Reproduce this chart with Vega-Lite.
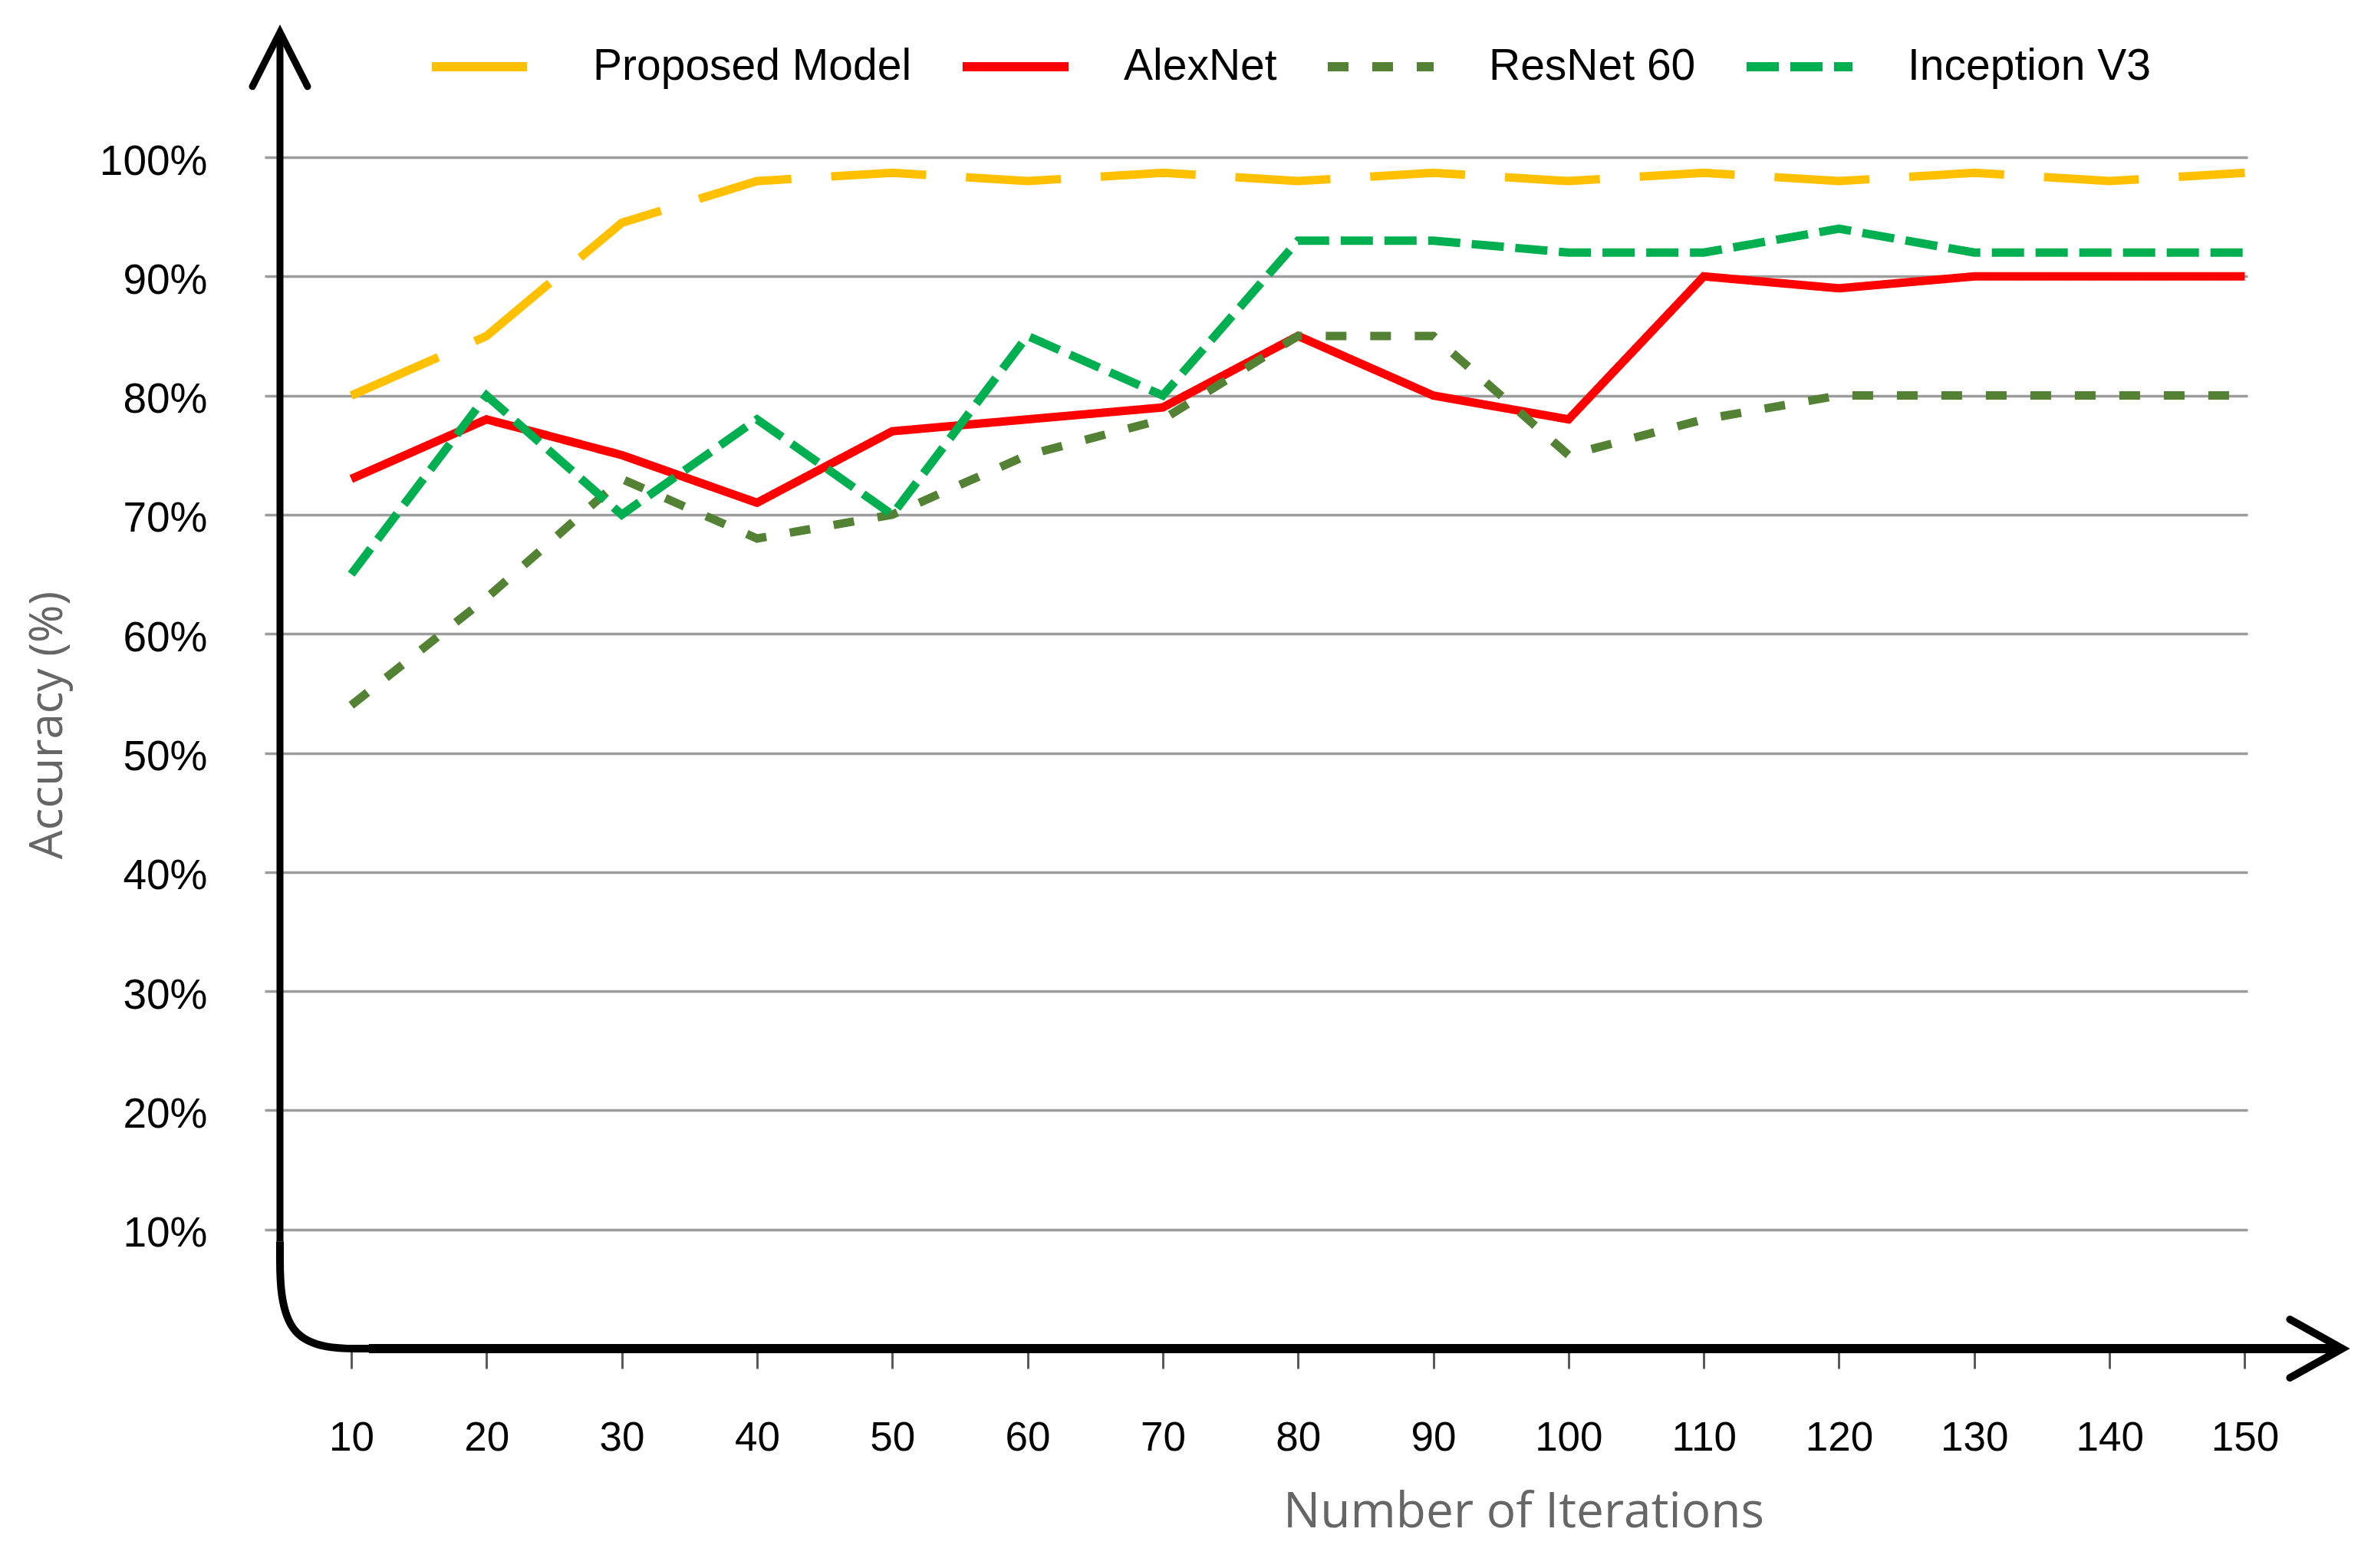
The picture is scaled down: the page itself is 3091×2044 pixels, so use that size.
{
  "$schema": "https://vega.github.io/schema/vega-lite/v6.json",
  "width": 2565,
  "height": 1553,
  "autosize": {"type": "none"},
  "padding": {"left": 365, "top": 205, "right": 161, "bottom": 286},
  "background": "white",
  "config": {
    "view": {"stroke": null},
    "font": "Liberation Sans"
  },
  "layer": [
    {
      "data": {
        "values": [
          {"iter": 10, "acc": 80, "model": "Proposed Model"},
          {"iter": 20, "acc": 85, "model": "Proposed Model"},
          {"iter": 30, "acc": 94.5, "model": "Proposed Model"},
          {"iter": 40, "acc": 98, "model": "Proposed Model"},
          {"iter": 50, "acc": 98.7, "model": "Proposed Model"},
          {"iter": 60, "acc": 98, "model": "Proposed Model"},
          {"iter": 70, "acc": 98.7, "model": "Proposed Model"},
          {"iter": 80, "acc": 98, "model": "Proposed Model"},
          {"iter": 90, "acc": 98.7, "model": "Proposed Model"},
          {"iter": 100, "acc": 98, "model": "Proposed Model"},
          {"iter": 110, "acc": 98.7, "model": "Proposed Model"},
          {"iter": 120, "acc": 98, "model": "Proposed Model"},
          {"iter": 130, "acc": 98.7, "model": "Proposed Model"},
          {"iter": 140, "acc": 98, "model": "Proposed Model"},
          {"iter": 150, "acc": 98.7, "model": "Proposed Model"},

          {"iter": 10, "acc": 73, "model": "AlexNet"},
          {"iter": 20, "acc": 78, "model": "AlexNet"},
          {"iter": 30, "acc": 75, "model": "AlexNet"},
          {"iter": 40, "acc": 71, "model": "AlexNet"},
          {"iter": 50, "acc": 77, "model": "AlexNet"},
          {"iter": 60, "acc": 78, "model": "AlexNet"},
          {"iter": 70, "acc": 79, "model": "AlexNet"},
          {"iter": 80, "acc": 85, "model": "AlexNet"},
          {"iter": 90, "acc": 80, "model": "AlexNet"},
          {"iter": 100, "acc": 78, "model": "AlexNet"},
          {"iter": 110, "acc": 90, "model": "AlexNet"},
          {"iter": 120, "acc": 89, "model": "AlexNet"},
          {"iter": 130, "acc": 90, "model": "AlexNet"},
          {"iter": 140, "acc": 90, "model": "AlexNet"},
          {"iter": 150, "acc": 90, "model": "AlexNet"},

          {"iter": 10, "acc": 54, "model": "ResNet 60"},
          {"iter": 20, "acc": 63, "model": "ResNet 60"},
          {"iter": 30, "acc": 73, "model": "ResNet 60"},
          {"iter": 40, "acc": 68, "model": "ResNet 60"},
          {"iter": 50, "acc": 70, "model": "ResNet 60"},
          {"iter": 60, "acc": 75, "model": "ResNet 60"},
          {"iter": 70, "acc": 78, "model": "ResNet 60"},
          {"iter": 80, "acc": 85, "model": "ResNet 60"},
          {"iter": 90, "acc": 85, "model": "ResNet 60"},
          {"iter": 100, "acc": 75, "model": "ResNet 60"},
          {"iter": 110, "acc": 78, "model": "ResNet 60"},
          {"iter": 120, "acc": 80, "model": "ResNet 60"},
          {"iter": 130, "acc": 80, "model": "ResNet 60"},
          {"iter": 140, "acc": 80, "model": "ResNet 60"},
          {"iter": 150, "acc": 80, "model": "ResNet 60"},

          {"iter": 10, "acc": 65, "model": "Inception V3"},
          {"iter": 20, "acc": 80, "model": "Inception V3"},
          {"iter": 30, "acc": 70, "model": "Inception V3"},
          {"iter": 40, "acc": 78, "model": "Inception V3"},
          {"iter": 50, "acc": 70, "model": "Inception V3"},
          {"iter": 60, "acc": 85, "model": "Inception V3"},
          {"iter": 70, "acc": 80, "model": "Inception V3"},
          {"iter": 80, "acc": 93, "model": "Inception V3"},
          {"iter": 90, "acc": 93, "model": "Inception V3"},
          {"iter": 100, "acc": 92, "model": "Inception V3"},
          {"iter": 110, "acc": 92, "model": "Inception V3"},
          {"iter": 120, "acc": 94, "model": "Inception V3"},
          {"iter": 130, "acc": 92, "model": "Inception V3"},
          {"iter": 140, "acc": 92, "model": "Inception V3"},
          {"iter": 150, "acc": 92, "model": "Inception V3"}
        ]
      },
      "mark": {"type": "line", "strokeWidth": 11, "strokeCap": "butt", "clip": false},
      "encoding": {
        "x": {
          "field": "iter",
          "type": "quantitative",
          "scale": {"domain": [4.73, 150.2], "nice": false, "zero": false},
          "axis": {
            "values": [10, 20, 30, 40, 50, 60, 70, 80, 90, 100, 110, 120, 130, 140, 150],
            "domain": false,
            "grid": false,
            "ticks": true,
            "tickColor": "#5a5a5a",
            "tickWidth": 3,
            "tickSize": 26,
            "labelFont": "Liberation Sans",
            "labelFontSize": 53,
            "labelColor": "black",
            "labelPadding": 64,
            "labelFlush": false,
            "labelOverlap": false,
            "title": "Number of Iterations",
            "titleFont": "Open Sans",
            "titleFontSize": 64,
            "titleFontWeight": "normal",
            "titleColor": "#666666",
            "titleAnchor": null,
            "titleAlign": "center",
            "titleBaseline": "middle",
            "titleX": 1621,
            "titleY": 213
          }
        },
        "y": {
          "field": "acc",
          "type": "quantitative",
          "scale": {"domain": [0, 100], "nice": false},
          "axis": {
            "values": [10, 20, 30, 40, 50, 60, 70, 80, 90, 100],
            "labelExpr": "datum.value + '%'",
            "domain": false,
            "grid": true,
            "gridColor": "#9c9c9c",
            "gridWidth": 3.5,
            "ticks": true,
            "tickColor": "#9c9c9c",
            "tickWidth": 3.5,
            "tickSize": 20,
            "labelFont": "Liberation Sans",
            "labelFontSize": 55,
            "labelColor": "black",
            "labelPadding": 75,
            "labelOffset": 5,
            "title": "Accuracy (%)",
            "titleFont": "Open Sans",
            "titleFontSize": 60,
            "titleFontWeight": "normal",
            "titleColor": "#666666",
            "titleAnchor": null,
            "titleAlign": "center",
            "titleBaseline": "middle",
            "titleAngle": 270,
            "titleX": -303,
            "titleY": 740
          }
        },
        "color": {
          "field": "model",
          "type": "nominal",
          "title": null,
          "scale": {
            "domain": ["Proposed Model", "AlexNet", "ResNet 60", "Inception V3"],
            "range": ["#FFC000", "#FF0000", "#548235", "#00B050"]
          },
          "legend": {
            "orient": "none",
            "direction": "horizontal",
            "legendX": 192,
            "legendY": -193,
            "padding": 0,
            "symbolType": "stroke",
            "symbolSize": 19044,
            "symbolStrokeWidth": 12,
            "labelFont": "Liberation Sans",
            "labelFontSize": 57,
            "labelColor": "black",
            "labelOffset": 66,
            "columnPadding": 42,
            "labelLimit": 0
          }
        },
        "strokeDash": {
          "field": "model",
          "type": "nominal",
          "title": null,
          "scale": {
            "domain": ["Proposed Model", "AlexNet", "ResNet 60", "Inception V3"],
            "range": [[124, 52], [1, 0], [27, 31], [42, 15]]
          }
        }
      }
    },
    {
      "data": {
        "values": [
          {"iter": 4.73, "acc": 9},
          {"iter": 4.73, "acc": 0},
          {"iter": 11.5, "acc": 0}
        ]
      },
      "mark": {"type": "line", "interpolate": "basis", "color": "black", "strokeWidth": 10, "clip": false},
      "encoding": {
        "x": {"field": "iter", "type": "quantitative"},
        "y": {"field": "acc", "type": "quantitative"}
      }
    },
    {
      "data": {"values": [{}]},
      "mark": {"type": "rule", "color": "black", "strokeWidth": 9, "clip": false},
      "encoding": {
        "x": {"datum": 4.73},
        "y": {"datum": 9},
        "y2": {"datum": 110.5}
      }
    },
    {
      "data": {"values": [{}]},
      "mark": {"type": "rule", "color": "black", "strokeWidth": 12, "clip": false},
      "encoding": {
        "x": {"datum": 11.3},
        "x2": {"datum": 157},
        "y": {"datum": 0}
      }
    },
    {
      "data": {"values": [{}]},
      "mark": {
        "type": "point",
        "shape": "M-1,1.97L0,0L1,1.97",
        "size": 5184,
        "filled": false,
        "stroke": "black",
        "strokeWidth": 9,
        "strokeCap": "round",
        "strokeJoin": "miter",
        "opacity": 1,
        "clip": false
      },
      "encoding": {
        "x": {"datum": 4.73},
        "y": {"datum": 110.5}
      }
    },
    {
      "data": {"values": [{}]},
      "mark": {
        "type": "point",
        "shape": "M-1.79,-1L0,0L-1.79,1",
        "size": 5776,
        "filled": false,
        "stroke": "black",
        "strokeWidth": 10,
        "strokeCap": "round",
        "strokeJoin": "miter",
        "opacity": 1,
        "clip": false
      },
      "encoding": {
        "x": {"datum": 157.2},
        "y": {"datum": 0}
      }
    }
  ]
}
